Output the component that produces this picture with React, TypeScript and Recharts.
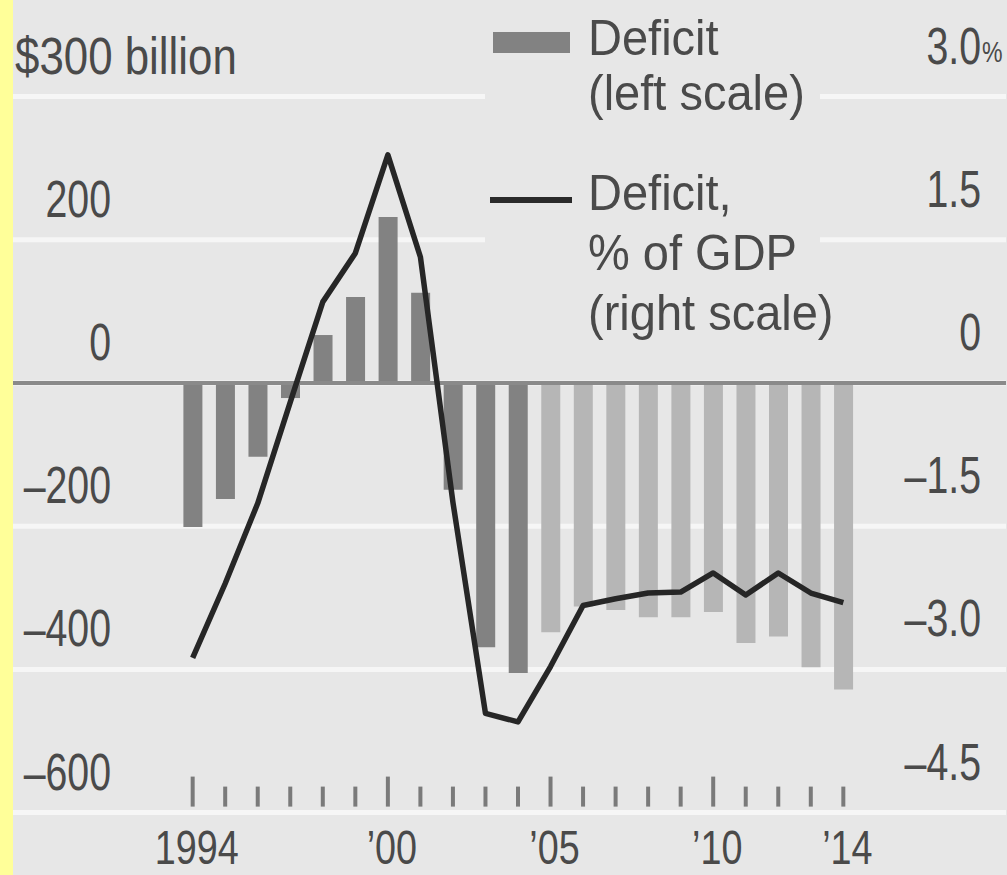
import React from "react";
import { ComposedChart, Bar, Line, Cell, XAxis, YAxis, CartesianGrid, ReferenceLine } from "recharts";

// US federal budget balance, actual to 2004 then projected
const years = [1994, 1995, 1996, 1997, 1998, 1999, 2000, 2001, 2002, 2003, 2004, 2005, 2006, 2007, 2008, 2009, 2010, 2011, 2012, 2013, 2014];
const deficitBn = [-201, -162, -103, -21, 67, 120, 232, 126, -149, -369, -405, -348, -312, -317, -327, -327, -320, -363, -354, -397, -428];
const deficitGdp = [-2.88, -2.1, -1.26, -0.2, 0.85, 1.36, 2.39, 1.32, -1.25, -3.46, -3.55, -2.97, -2.33, -2.26, -2.2, -2.19, -1.99, -2.22, -1.99, -2.2, -2.3];
const firstProjectedYear = 2005;

const leftTicks = [-600, -400, -200, 0, 200, 400];
const leftTickLabels = ["\u2013600", "\u2013400", "\u2013200", "0", "200", "$300 billion"];
const rightTicks = [-4.5, -3, -1.5, 0, 1.5, 3];
const rightTickLabels = ["\u20134.5", "\u20133.0", "\u20131.5", "0", "1.5", "3.0"];
const xTickLabels: Record<number, string> = { 1994: "1994", 2000: "\u201900", 2005: "\u201905", 2010: "\u201910", 2014: "\u201914" };
const majorYears = [1994, 2000, 2005, 2010];

const data = years.map((y, i) => ({ year: y, bn: deficitBn[i], gdp: deficitGdp[i] }));

const FONT = '"Liberation Sans", Arial, sans-serif';
const BG = "#e7e7e7";
const TXT = "#4a4a4a";
const SQ = 0.77; // horizontal squeeze for the condensed figures

function Squeezed({ x, y, anchor, size, children }: { x: number; y: number; anchor: "start" | "end" | "middle"; size: number; children: React.ReactNode }) {
  return (
    <text transform={`translate(${x},${y}) scale(${SQ},1)`} textAnchor={anchor} fill={TXT} fontFamily={FONT} fontSize={size}>
      {children}
    </text>
  );
}

function LeftTick(props: any) {
  const { x, y, payload } = props;
  const i = leftTicks.indexOf(payload.value);
  if (i === leftTicks.length - 1) {
    return (
      <text transform={`translate(${x + 2},${y - 23}) scale(0.86,1)`} textAnchor="start" fill={TXT} fontFamily={FONT} fontSize={51}>
        {leftTickLabels[i]}
      </text>
    );
  }
  return <Squeezed x={x + 98} y={y - 23} anchor="end" size={51}>{leftTickLabels[i]}</Squeezed>;
}

function RightTick(props: any) {
  const { x, y, payload } = props;
  const i = rightTicks.indexOf(payload.value);
  const top = i === rightTicks.length - 1;
  return (
    <g>
      <Squeezed x={x - 25} y={y - 33} anchor="end" size={51}>{rightTickLabels[i]}</Squeezed>
      {top && <Squeezed x={x - 24} y={y - 35} anchor="start" size={30}>%</Squeezed>}
    </g>
  );
}

function YearTick(props: any) {
  const { x, y, payload } = props;
  const yr = payload.value as number;
  const major = majorYears.includes(yr);
  const label = xTickLabels[yr];
  return (
    <g>
      <line x1={x} x2={x} y1={y - (major ? 36 : 26)} y2={y - 6} stroke="#7a7a7a" strokeWidth={4} />
      {label && <Squeezed x={x + 4} y={y + 51} anchor="middle" size={49}>{label}</Squeezed>}
    </g>
  );
}

function Legend() {
  const txt: React.CSSProperties = {
    position: "absolute", left: 103, fontFamily: FONT, fontSize: 50, color: TXT, lineHeight: "50px",
    whiteSpace: "nowrap", transform: "scaleX(0.94)", transformOrigin: "left center",
  };
  return (
    <div style={{ position: "absolute", left: 485, top: 8, width: 335, height: 345, background: BG }}>
      <div style={{ position: "absolute", left: 8, top: 24, width: 77, height: 21, background: "#828282" }} />
      <div style={{ ...txt, top: 5 }}>Deficit</div>
      <div style={{ ...txt, top: 60 }}>(left scale)</div>
      <div style={{ position: "absolute", left: 5, top: 189, width: 82, height: 6, background: "#2a2a2a" }} />
      <div style={{ ...txt, top: 160 }}>Deficit,</div>
      <div style={{ ...txt, top: 220 }}>% of GDP</div>
      <div style={{ ...txt, top: 280 }}>(right scale)</div>
    </div>
  );
}

export default function App() {
  return (
    <div style={{ position: "absolute", left: 0, top: 0, width: 1007, height: 875, background: BG, overflow: "hidden" }}>
      <ComposedChart width={1007} height={875} data={data} margin={{ top: 96.6, right: 0, bottom: 0, left: 12 }}>
        <CartesianGrid yAxisId="left" vertical={false} stroke="#f6f6f6" strokeWidth={5} />
        <XAxis dataKey="year" height={62.4} interval={0} axisLine={false} tickLine={false} tickSize={0} tickMargin={0}
          padding={{ left: 163.4, right: 146.4 }} tick={<YearTick />} />
        <YAxis yAxisId="left" orientation="left" width={1} domain={[-600, 400]} ticks={leftTicks} interval={0}
          axisLine={false} tickLine={false} tickSize={0} tickMargin={0} tick={<LeftTick />} />
        <YAxis yAxisId="right" orientation="right" width={1} domain={[-4.5, 3]} ticks={rightTicks} interval={0}
          axisLine={false} tickLine={false} tickSize={0} tickMargin={0} tick={<RightTick />} />
        <Bar yAxisId="left" dataKey="bn" barSize={19} isAnimationActive={false}>
          {data.map((d) => (
            <Cell key={d.year} fill={d.year >= firstProjectedYear ? "#b6b6b6" : "#828282"} />
          ))}
        </Bar>
        <ReferenceLine yAxisId="left" y={0} stroke="#8a8a8a" strokeWidth={4} />
        <Line yAxisId="right" dataKey="gdp" type="linear" stroke="#262626" strokeWidth={5.5} dot={false}
          strokeLinejoin="round" isAnimationActive={false} />
      </ComposedChart>
      <Legend />
      <div style={{ position: "absolute", left: 0, top: 0, width: 13, height: 875, background: "#ffff99" }} />
    </div>
  );
}
